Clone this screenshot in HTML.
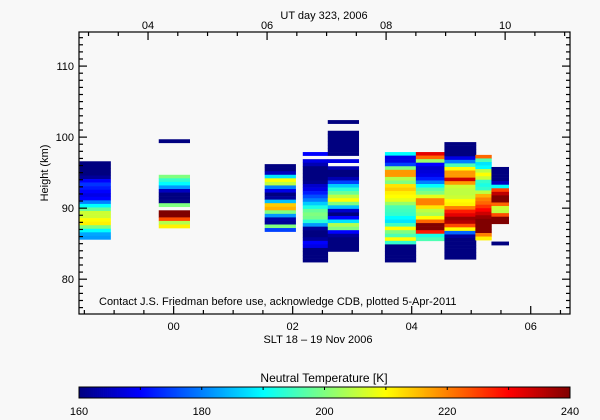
<!DOCTYPE html>
<html><head><meta charset="utf-8"><style>
html,body{margin:0;padding:0;background:#f8f8f8;}
svg{display:block;font-family:"Liberation Sans",sans-serif;}
</style></head><body>
<svg id="chart" width="600" height="420" viewBox="0 0 600 420" xmlns="http://www.w3.org/2000/svg">
<rect x="0" y="0" width="600" height="420" fill="#f8f8f8"/>
<g id="cells"></g>
<g id="axes"></g>
<text x="324" y="19" font-size="11" text-anchor="middle">UT day 323, 2006</text>
<text x="318" y="343" font-size="11" text-anchor="middle">SLT 18 – 19 Nov 2006</text>
<text transform="translate(48,173) rotate(-90)" font-size="11" text-anchor="middle">Height  (km)</text>
<text x="99" y="305" font-size="11">Contact J.S. Friedman before use, acknowledge CDB, plotted 5-Apr-2011</text>
<text x="324" y="382" font-size="12" text-anchor="middle">Neutral Temperature [K]</text>
<g id="cbar"></g>
</svg>
<script>
// ---- data ----
const colStart = [-1.58, -0.25, 1.53, 2.17, 2.59, 3.55, 4.07, 4.55, 5.07, 5.34];
const colEnd   = [-1.06, 0.27, 2.05, 2.59, 3.11, 4.07, 4.55, 5.08, 5.34, 5.63];
const colTop   = [96.6, 99.7, 96.2, 97.9, 102.4, 97.9, 97.9, 99.3, 97.5, 95.8];
const cellKm = 0.5;
const temps0 = [160,160,160,160,162,170,174,172,170,168,170,180,190,198,206,206,210,211,200,190,183,182];
const temps1 = [160,null,null,null,null,null,null,null,null,null,200,194,190,182,165,160,160,160,200,null,240,240,224,204,211];
const temps2 = [160,160,165,188,210,205,180,168,160,162,185,214,216,200,182,163,162,200,175];
const temps3 = [170,null,168,164,160,160,160,160,161,166,168,172,176,180,186,192,198,200,199,193,182,162,160,160,162,170,168,160,160,160,160];
const temps4 = [160,null,null,160,160,160,160,160,160,160,null,168,null,164,160,160,164,175,186,193,198,205,210,200,185,166,160,170,188,204,200,170,162,160,160,160,160];
const temps5 = [190,168,168,175,200,218,218,204,200,212,214,211,210,208,202,196,195,194,190,188,195,210,200,196,210,194,160,160,160,160,160];
const temps6 = [232,222,202,170,166,167,168,172,180,190,197,200,208,220,220,212,205,203,210,222,240,240,228,192,196];
const temps7 = [160,160,160,160,168,180,196,210,218,218,234,218,206,205,205,206,210,211,220,228,232,238,236,224,210,178,162,160,160,160,160,160,160];
const temps8 = [222,196,188,190,205,210,206,194,192,194,205,216,220,222,226,230,234,238,240,240,240,240,220,211];
const temps9 = [160,160,160,160,165,190,225,235,240,240,222,206,205,224,240,240,null,null,null,null,null,160];
const columns = [temps0,temps1,temps2,temps3,temps4,temps5,temps6,temps7,temps8,temps9];
const xTicks = [0, 2, 4, 6];
const xTickLabels = ["00","02","04","06"];
const utTicks = [4, 6, 8, 10];
const utTickLabels = ["04","06","08","10"];
const yTicks = [80, 90, 100, 110];
const cbTicks = [160, 180, 200, 220, 240];

// ---- scales ----
const L=79, R=570, T=32, B=314;
const xMin=-1.59, xMax=6.66, yMin=75.1, yMax=114.8, utOff=4.43;
const xs = t => L + (t - xMin) / (xMax - xMin) * (R - L);
const ys = h => B - (h - yMin) / (yMax - yMin) * (B - T);
const tMin=160, tMax=240;
function jet(v){
  v=Math.max(0,Math.min(1,(v-tMin)/(tMax-tMin)));
  const c=x=>Math.round(255*Math.max(0,Math.min(1,x)));
  return `rgb(${c(1.5-Math.abs(4*v-3))},${c(1.5-Math.abs(4*v-2))},${c(1.5-Math.abs(4*v-1))})`;
}
const NS="http://www.w3.org/2000/svg";
function mk(tag, attrs, parent){const e=document.createElementNS(NS,tag);for(const k in attrs)e.setAttribute(k,attrs[k]);parent.appendChild(e);return e;}

// ---- cells ----
const cg=document.getElementById('cells');
columns.forEach((arr,ci)=>{
  arr.forEach((t,k)=>{
    if(t===null) return;
    const hTop=colTop[ci]-k*cellKm, hBot=hTop-cellKm;
    const x0=xs(colStart[ci]), x1=xs(colEnd[ci]);
    const r=mk('rect',{x:x0.toFixed(2),y:ys(hTop).toFixed(2),width:(x1-x0+0.3).toFixed(2),height:(ys(hBot)-ys(hTop)+0.3).toFixed(2),fill:jet(t)},cg);
    
    
  });
});

// ---- axes ----
const ag=document.getElementById('axes');
const frame=mk('rect',{x:L,y:T,width:R-L,height:B-T,fill:'none',stroke:'#000','stroke-width':1.2},ag);


function line(x1,y1,x2,y2,name){const l=mk('line',{x1,y1,x2,y2,stroke:'#000','stroke-width':1.2},ag);}
function txt(x,y,s,anchor,size,name,parent){const e=mk('text',{x,y,'font-size':size,'text-anchor':anchor},parent||ag);e.textContent=s;}
// bottom SLT ticks
for(let t=-1.5;t<=6.5;t+=0.5){const x=xs(t);const major=Math.abs(t-Math.round(t/2)*2)<1e-6;line(x,B,x,B-(major?8:4),'x-tick');}
xTicks.forEach((t,i)=>txt(xs(t),330,xTickLabels[i],'middle',11,'x-tick-label'));
// top UT ticks
for(let u=3;u<=11;u+=0.5){const t=u-utOff;if(t<xMin||t>xMax)continue;const x=xs(t);const major=Math.abs(u-Math.round(u/2)*2)<1e-6;line(x,T,x,T+(major?8:4),'top-tick');}
utTicks.forEach((u,i)=>txt(xs(u-utOff),29,utTickLabels[i],'middle',11,'top-tick-label'));
// y ticks
for(let h=76;h<=114;h+=1){const y=ys(h);const major=h%10===0;line(L,y,L+(major?8:4),y,'y-tick');line(R,y,R-(major?8:4),y,'y-tick-right');}
yTicks.forEach(h=>txt(74,ys(h)+4,String(h),'end',11,'y-tick-label'));

// ---- colorbar ----
const cb=document.getElementById('cbar');
const cbY=387, cbH=11;
for(let i=0;i<245;i++){
  const t=tMin+(i+0.5)/245*(tMax-tMin);
  const x=L+i*(R-L)/245;
  const r=mk('rect',{x:x.toFixed(2),y:cbY,width:((R-L)/245+0.4).toFixed(2),height:cbH,fill:jet(t)},cb);
  
  
}
const cbf=mk('rect',{x:L,y:cbY,width:R-L,height:cbH,fill:'none',stroke:'#000','stroke-width':1},cb);


const cx=t=>L+(t-tMin)/(tMax-tMin)*(R-L);
for(let t=170;t<240;t+=10){const l=mk('line',{x1:cx(t),y1:cbY,x2:cx(t),y2:cbY+3,stroke:'#000','stroke-width':1},cb);}
cbTicks.forEach(t=>txt(cx(t),415,String(t),'middle',11,'colorbar-tick-label',cb));
</script>
</body></html>
